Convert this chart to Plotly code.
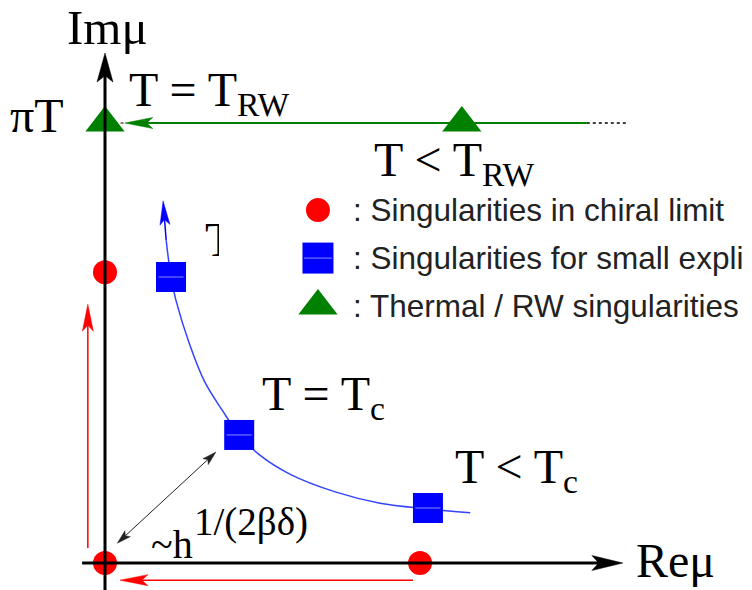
import math
import plotly.graph_objects as go

# ---------------------------------------------------------------------------
# Complex chemical-potential plane, units of pi*T on both axes (pi*T -> 1)
# ---------------------------------------------------------------------------
# Singularities in the chiral limit (Re mu, Im mu)
chiral_re = [0.0, 0.716, 0.0]
chiral_im = [0.0, 0.0, 0.661]

# Singularities for small explicit breaking, at T > Tc, T = Tc, T < Tc
explicit_re = [0.150, 0.305, 0.734]
explicit_im = [0.650, 0.291, 0.125]

# Thermal / Roberge-Weiss singularities at Im mu = pi*T
rw_re = [0.0, 0.811]
rw_im = [1.0, 1.0]

# Trajectory of the explicit-breaking singularity as T varies
traj_re = [0.139, 0.150, 0.161, 0.193, 0.227, 0.266, 0.305, 0.352,
           0.420, 0.525, 0.625, 0.734, 0.830]
traj_im = [0.734, 0.650, 0.598, 0.495, 0.411, 0.348, 0.291, 0.245,
           0.202, 0.161, 0.136, 0.123, 0.114]

legend_labels = [
    ": Singularities in chiral limit",
    ": Singularities for small expli",
    ": Thermal / RW singularities",
]
legend_re = [0.484, 0.484, 0.484]
legend_im = [0.802, 0.693, 0.584]

# ---------------------------------------------------------------------------
W, H = 752, 590
PX = 440.0                       # pixels per unit on both axes
X_RANGE = [-105 / PX, (W - 105) / PX]
Y_RANGE = [-(H - 563) / PX, 563 / PX]

SERIF = "Liberation Serif, Times New Roman, serif"
SANS = "Liberation Sans, Arial, sans-serif"

RED, BLUE, GREEN = "#ff0000", "#0000ff", "#008000"

shapes = []


def arrow(x0, y0, x1, y1, color, width, head_len, head_w, start_head=False):
    """Shaft plus notched filled head(s); head sizes are in pixels."""
    dx, dy = x1 - x0, y1 - y0
    n = math.hypot(dx, dy)
    ux, uy = dx / n, dy / n
    L, Wh = head_len / PX, head_w / PX

    def head(tx, ty, sx, sy):
        bx, by = tx - sx * L, ty - sy * L
        nx, ny = tx - sx * L * 0.78, ty - sy * L * 0.78
        qx, qy = -sy, sx
        path = (f"M{tx},{ty} L{bx + qx * Wh / 2},{by + qy * Wh / 2} "
                f"L{nx},{ny} L{bx - qx * Wh / 2},{by - qy * Wh / 2} Z")
        shapes.append(dict(type="path", path=path, fillcolor=color,
                           line=dict(color=color, width=0.5), layer="above"))
        return nx, ny

    ex, ey = head(x1, y1, ux, uy)
    sx0, sy0 = x0, y0
    if start_head:
        sx0, sy0 = head(x0, y0, -ux, -uy)
    shapes.append(dict(type="line", x0=sx0, y0=sy0, x1=ex, y1=ey,
                       line=dict(color=color, width=width), layer="above"))


# axes
arrow(0.0, Y_RANGE[0], 0.0, 1.159, "black", 3, 29, 16)
arrow(-0.052, 0.0, 1.177, 0.0, "black", 3, 31, 15)
# red arrows approaching the chiral-limit singularities
arrow(-0.039, 0.034, -0.039, 0.588, RED, 1.5, 27, 11)
arrow(0.700, -0.039, 0.034, -0.039, RED, 1.5, 28, 11)
# green arrow along Im mu = pi*T
arrow(1.095, 1.0, 0.045, 1.0, GREEN, 2, 28, 11)
# blue arrow continuing the trajectory upwards
arrow(traj_re[0], traj_im[0], 0.132, 0.823, BLUE, 1.5, 24, 10)
# distance scale h^(1/(2 beta delta))
arrow(0.028, 0.045, 0.252, 0.252, "#222222", 1, 14, 8, start_head=True)

# white patch of the legend box partly hiding a label
shapes.append(dict(type="rect", x0=(219 - 105) / PX, x1=(262 - 105) / PX,
                   y0=(563 - 272) / PX, y1=(563 - 215) / PX,
                   fillcolor="white", line=dict(width=0), layer="above"))

fig = go.Figure()

# trajectory curve
fig.add_trace(go.Scatter(x=traj_re, y=traj_im, mode="lines",
                         line=dict(color="#3344ff", width=1.5, shape="spline"),
                         hoverinfo="skip"))
# dotted continuations of the Im mu = pi*T line
fig.add_trace(go.Scatter(x=[1.095, 1.189], y=[1.0, 1.0], mode="lines",
                         line=dict(color="black", width=1.5, dash="dot")))
fig.add_trace(go.Scatter(x=[0.008, 0.045], y=[1.0, 1.0], mode="lines",
                         line=dict(color="black", width=1.2, dash="dot")))

# partially hidden label
fig.add_trace(go.Scatter(x=[(205 - 105) / PX], y=[(563 - 244) / PX],
                         mode="text", text=["T"], textposition="middle right",
                         textfont=dict(family=SERIF, size=48, color="black")))

# singularities
fig.add_trace(go.Scatter(x=chiral_re, y=chiral_im, mode="markers",
                         marker=dict(symbol="circle", size=24, color=RED)))
fig.add_trace(go.Scatter(x=explicit_re, y=explicit_im, mode="markers",
                         marker=dict(symbol="square", size=30, color=BLUE)))
fig.add_trace(go.Scatter(x=explicit_re, y=explicit_im, mode="markers",
                         marker=dict(symbol="line-ew", size=18,
                                     line=dict(color="#8a8aff", width=1))))
fig.add_trace(go.Scatter(x=rw_re, y=rw_im, mode="markers",
                         marker=dict(symbol="triangle-up", size=34, color=GREEN)))

# legend symbols
fig.add_trace(go.Scatter(x=legend_re[:1], y=legend_im[:1], mode="markers",
                         marker=dict(symbol="circle", size=24, color=RED)))
fig.add_trace(go.Scatter(x=legend_re[1:2], y=legend_im[1:2], mode="markers",
                         marker=dict(symbol="square", size=31, color=BLUE)))
fig.add_trace(go.Scatter(x=legend_re[1:2], y=legend_im[1:2], mode="markers",
                         marker=dict(symbol="line-ew", size=20,
                                     line=dict(color="#8a8aff", width=1))))
fig.add_trace(go.Scatter(x=legend_re[2:], y=legend_im[2:], mode="markers",
                         marker=dict(symbol="triangle-up", size=34, color=GREEN)))

annotations = []
for lab, yy in zip(legend_labels, legend_im):
    annotations.append(dict(x=0.561, y=yy, text=lab, xanchor="left",
                            yanchor="middle",
                            font=dict(family=SANS, size=31.5, color="#222222")))


def label(x, y, text, size=48):
    annotations.append(dict(x=x, y=y, text=text, xanchor="left",
                            yanchor="middle",
                            font=dict(family=SERIF, size=size, color="black")))


label(-0.089, 1.218, "Imμ", size=49)
label(-0.218, 1.016, "πT")
label(0.052, 1.068, "T = T<sub>RW</sub>")
label(0.610, 0.910, "T &lt; T<sub>RW</sub>")
label(0.355, 0.378, "T = T<sub>c</sub>")
label(0.793, 0.212, "T &lt; T<sub>c</sub>")
label(0.103, 0.042, "~h", size=40)
label(0.200, 0.093, "1/(2βδ)", size=39)
label(1.205, 0.005, "Reμ", size=48)

for a in annotations:
    a.update(showarrow=False, xref="x", yref="y", borderpad=0)

fig.update_layout(
    width=W, height=H,
    margin=dict(l=0, r=0, t=0, b=0),
    paper_bgcolor="white", plot_bgcolor="white",
    showlegend=False,
    xaxis=dict(range=X_RANGE, visible=False, fixedrange=True),
    yaxis=dict(range=Y_RANGE, visible=False, fixedrange=True),
    shapes=shapes,
    annotations=annotations,
)

fig.write_html("out.html")
